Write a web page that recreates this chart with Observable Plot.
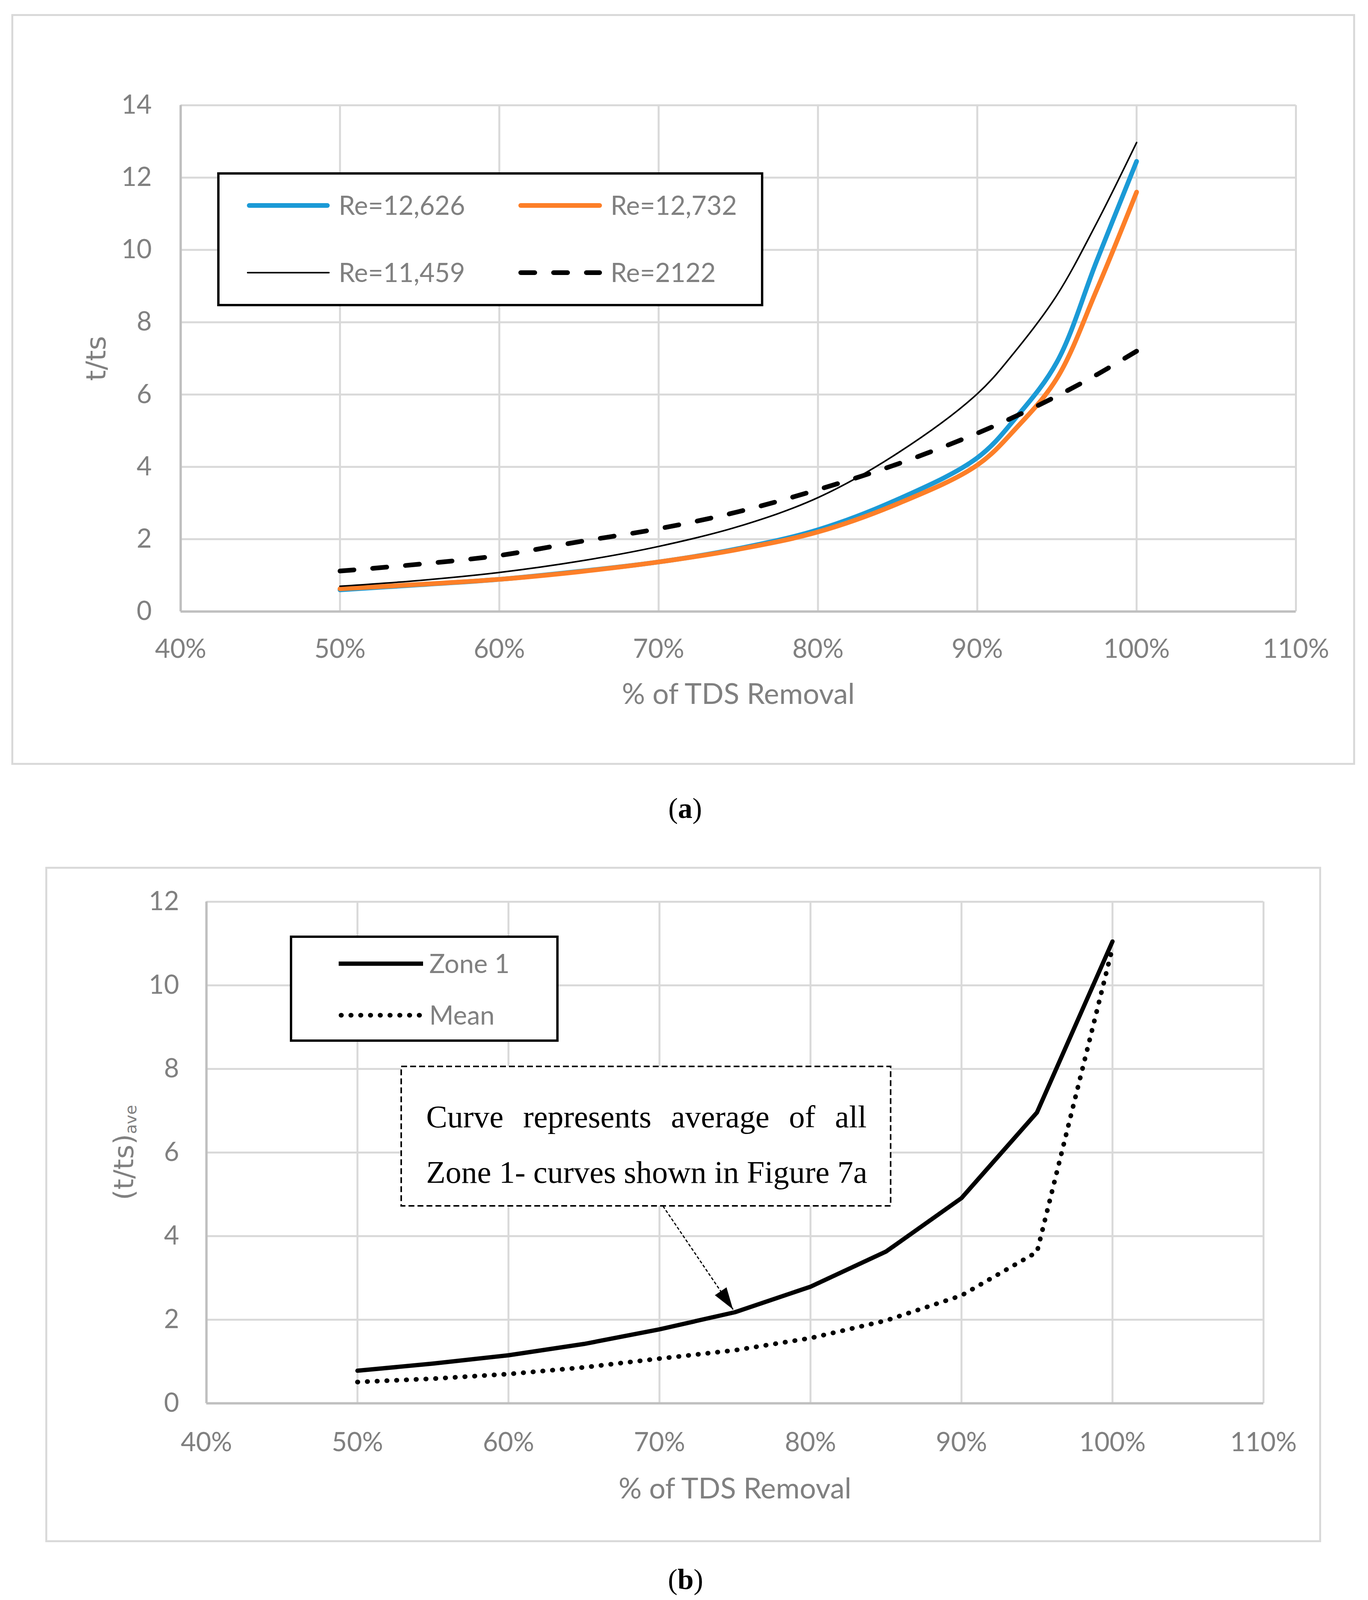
<!DOCTYPE html>
<html>
<head>
<meta charset="utf-8">
<script src="https://cdn.jsdelivr.net/npm/d3@7"></script>
<script src="https://cdn.jsdelivr.net/npm/@observablehq/plot@0.6"></script>
<style>
html, body { margin: 0; padding: 0; background: #fff; }
#page { position: relative; width: 3502px; height: 4131px; overflow: hidden; background: #fff; }
.chart { position: absolute; }
#overlay { position: absolute; left: 0; top: 0; pointer-events: none; }
</style>
</head>
<body>
<div id="page"></div>
<script>
// ---------- Data: Figure (a) ----------
const pctA = [50, 55, 60, 65, 70, 75, 80, 85, 90, 92.5, 95, 97.5, 100];
const re12626 = [0.60, 0.74, 0.89, 1.11, 1.37, 1.74, 2.26, 3.10, 4.25, 5.40, 6.90, 9.70, 12.45];
const re12732 = [0.63, 0.75, 0.89, 1.10, 1.37, 1.72, 2.20, 2.98, 4.05, 5.10, 6.45, 8.90, 11.60];
const re11459 = [0.70, 0.86, 1.08, 1.39, 1.80, 2.35, 3.15, 4.38, 6.02, 7.26, 8.75, 10.75, 12.97];
const re2122  = [1.12, 1.31, 1.55, 1.93, 2.29, 2.76, 3.37, 4.08, 4.93, 5.42, 5.96, 6.55, 7.20];
const namesA = ["Re=12,626", "Re=12,732", "Re=11,459", "Re=2122"];

// ---------- Data: Figure (b) ----------
const pctB = [50, 55, 60, 65, 70, 75, 80, 85, 90, 95, 100];
const zone1 = [0.78, 0.95, 1.15, 1.42, 1.77, 2.18, 2.79, 3.63, 4.91, 6.96, 11.05];
const meanV = [0.51, 0.59, 0.70, 0.86, 1.07, 1.27, 1.56, 1.98, 2.58, 3.62, 10.90];
const namesB = ["Zone 1", "Mean"];

// ---------- Ticks & labels ----------
const ticksX = [40, 50, 60, 70, 80, 90, 100, 110];
const ticksYA = [0, 2, 4, 6, 8, 10, 12, 14];
const ticksYB = [0, 2, 4, 6, 8, 10, 12];
const xTitle = "% of TDS Removal";
const yTitleA = "t/ts";
const yTitleB = "(t/ts)";
const yTitleBSub = "ave";
const panelLabels = ["a", "b"];

// ---------- Annotation (figure b, in data units) ----------
const noteBox = { x1: 52.91, x2: 85.32, y1: 4.72, y2: 8.056 };
const noteLines = [
  { x: 54.55, y: 6.607, text: "Curve represents average of all" },
  { x: 54.55, y: 5.280, text: "Zone 1- curves shown in Figure 7a" }
];
const noteRight = 83.72;
const noteArrow = { x1: 70.23, y1: 4.72, x2: 74.88, y2: 2.243 };

// ---------- Styles ----------
const seriesA = [
  { name: namesA[0], values: re12626, color: "#1b9ad6", width: 12, dash: null },
  { name: namesA[1], values: re12732, color: "#fd7f28", width: 12, dash: null },
  { name: namesA[2], values: re11459, color: "#000000", width: 4, dash: null },
  { name: namesA[3], values: re2122, color: "#000000", width: 12, dash: "36,48" }
];
const seriesB = [
  { name: namesB[0], pct: pctB, values: zone1, color: "#000000", width: 11, dash: null },
  { name: namesB[1], pct: pctB, values: meanV, color: "#000000", width: 12, dash: "1,24" }
];

const gray = "#808080";
const grid = "#d9d9d9";
const axisGray = "#bfbfbf";
const svgStyle = { fontFamily: "Lato", fontSize: "67px", color: gray, background: "white", overflow: "visible" };

const page = document.getElementById("page");

function place(node, left, top, w) {
  const div = document.createElement("div");
  div.className = "chart";
  div.style.left = left + "px";
  div.style.top = top + "px";
  div.style.width = w + "px";
  div.appendChild(node);
  page.appendChild(div);
}

// ---------- Chart (a) ----------
const chartA = Plot.plot({
  width: 3440, height: 1922,
  marginLeft: 433, marginRight: 152, marginTop: 233, marginBottom: 393,
  style: svgStyle,
  x: { domain: [40, 110], ticks: ticksX, tickFormat: d => d + "%", tickSize: 0, tickPadding: 71, label: null },
  y: { domain: [0, 14], ticks: ticksYA, tickSize: 0, tickPadding: 74, label: null },
  marks: [
    Plot.ruleX(ticksX, { stroke: grid, strokeWidth: 5 }),
    Plot.ruleY(ticksYA, { stroke: grid, strokeWidth: 5 }),
    Plot.ruleX([40], { stroke: axisGray, strokeWidth: 6 }),
    Plot.ruleY([0], { stroke: axisGray, strokeWidth: 6 }),
    ...seriesA.map(s => Plot.line(pctA.map((p, i) => ({ pct: p, v: s.values[i] })), {
      x: "pct", y: "v", stroke: s.color, strokeWidth: s.width,
      strokeDasharray: s.dash, strokeLinecap: "round", strokeLinejoin: "round",
      curve: "catmull-rom"
    })),
    Plot.text([xTitle], { text: d => d, frameAnchor: "bottom", dy: 213, lineAnchor: "middle",
      fontFamily: "Lato", fontSize: 74, fill: gray }),
    Plot.text([yTitleA], { text: d => d, frameAnchor: "left", dx: -193, rotate: -90,
      lineAnchor: "bottom", textAnchor: "middle", fontFamily: "DejaVu Sans", fontSize: 70, fill: gray })
  ]
});
place(chartA, 29, 36, 3440);

// ---------- Chart (b) ----------
const chartB = Plot.plot({
  width: 3266, height: 1729,
  marginLeft: 412, marginRight: 148, marginTop: 89, marginBottom: 356,
  style: svgStyle,
  x: { domain: [40, 110], ticks: ticksX, tickFormat: d => d + "%", tickSize: 0, tickPadding: 75, label: null },
  y: { domain: [0, 12], ticks: ticksYB, tickSize: 0, tickPadding: 70, label: null },
  marks: [
    Plot.ruleX(ticksX, { stroke: grid, strokeWidth: 5 }),
    Plot.ruleY(ticksYB, { stroke: grid, strokeWidth: 5 }),
    Plot.ruleX([40], { stroke: axisGray, strokeWidth: 6 }),
    Plot.ruleY([0], { stroke: axisGray, strokeWidth: 6 }),
    Plot.rect([noteBox], { x1: "x1", x2: "x2", y1: "y1", y2: "y2", fill: "white",
      stroke: "black", strokeWidth: 4, strokeDasharray: "15,8" }),
    Plot.text(noteLines, { x: "x", y: "y", text: "text", textAnchor: "start", lineAnchor: "bottom",
      fontFamily: "Liberation Serif", fontSize: 81, fill: "black" }),
    ...seriesB.map(s => Plot.line(s.pct.map((p, i) => ({ pct: p, v: s.values[i] })), {
      x: "pct", y: "v", stroke: s.color, strokeWidth: s.width,
      strokeDasharray: s.dash, strokeLinecap: "round", strokeLinejoin: "round"
    })),
    Plot.link([noteArrow], { x1: "x1", y1: "y1", x2: "x2", y2: "y2", stroke: "black",
      strokeWidth: 3, strokeDasharray: "8,5" }),
    Plot.text([xTitle], { text: d => d, frameAnchor: "bottom", dy: 220, lineAnchor: "middle",
      fontFamily: "Lato", fontSize: 74, fill: gray }),
    Plot.text([yTitleB], { text: d => d, frameAnchor: "left", dx: -188, rotate: -90,
      lineAnchor: "bottom", textAnchor: "middle", fontFamily: "DejaVu Sans", fontSize: 70, fill: gray })
  ]
});
place(chartB, 116, 2219, 3266);

// ---------- Post-processing of chart (b) ----------
function scaleFn(chart, name) {
  const s = chart.scale(name);
  if (s && typeof s.apply === "function") return v => s.apply(v);
  return v => s.range[0] + (v - s.domain[0]) / (s.domain[1] - s.domain[0]) * (s.range[1] - s.range[0]);
}
const fx = scaleFn(chartB, "x"), fy = scaleFn(chartB, "y");

d3.select(chartB).selectAll("text").each(function () {
  if (this.textContent === yTitleB) {
    d3.select(this).append("tspan").attr("font-size", 41).attr("dy", 8).text(yTitleBSub);
  } else if (this.textContent === noteLines[0].text) {
    const w = this.getComputedTextLength();
    const target = fx(noteRight) - fx(noteLines[0].x);
    const n = (noteLines[0].text.match(/ /g) || []).length;
    if (n > 0 && target > w) this.style.wordSpacing = ((target - w) / n) + "px";
  }
});

// filled arrow head
{
  const ax0 = fx(noteArrow.x1), ay0 = fy(noteArrow.y1);
  const ax1 = fx(noteArrow.x2), ay1 = fy(noteArrow.y2);
  const len = Math.hypot(ax1 - ax0, ay1 - ay0);
  const ux = (ax1 - ax0) / len, uy = (ay1 - ay0) / len;
  const nx = -uy, ny = ux;
  const L = 56, hw = 18;
  const bx = ax1 - L * ux, by = ay1 - L * uy;
  d3.select(chartB).append("path")
    .attr("d", `M${ax1},${ay1}L${bx + hw * nx},${by + hw * ny}L${bx - hw * nx},${by - hw * ny}Z`)
    .attr("fill", "black");
}

// ---------- Overlay: frames, legends, panel labels ----------
const ov = d3.select(page).append("svg").attr("id", "overlay")
  .attr("width", 3502).attr("height", 4131).attr("viewBox", "0 0 3502 4131");

function frame(x0, y0, x1, y1) {
  ov.append("rect").attr("x", x0 + 2.5).attr("y", y0 + 2.5)
    .attr("width", x1 - x0 - 5).attr("height", y1 - y0 - 5)
    .attr("fill", "none").attr("stroke", grid).attr("stroke-width", 5);
}
frame(29, 36, 3469, 1958);
frame(116, 2219, 3382, 3948);

function legend(box, entries) {
  ov.append("rect").attr("x", box.x0 + 3).attr("y", box.y0 + 3)
    .attr("width", box.x1 - box.x0 - 6).attr("height", box.y1 - box.y0 - 6)
    .attr("fill", "white").attr("stroke", "black").attr("stroke-width", 6);
  for (const e of entries) {
    const cap = e.cap || "round";
    const inset = cap === "round" ? e.width / 2 : 0;
    ov.append("line")
      .attr("x1", e.sw0 + inset).attr("x2", e.sw1 - inset).attr("y1", e.y).attr("y2", e.y)
      .attr("stroke", e.color).attr("stroke-width", e.width)
      .attr("stroke-linecap", cap)
      .attr("stroke-dasharray", e.dash);
    ov.append("text").attr("x", e.tx).attr("y", e.y + 24)
      .attr("font-family", "Lato").attr("font-size", 67).attr("fill", gray)
      .text(e.name);
  }
}
legend({ x0: 556, y0: 441, x1: 1954, y1: 784 }, [
  { ...seriesA[0], y: 526, sw0: 632, sw1: 844, tx: 867 },
  { ...seriesA[1], y: 526, sw0: 1327, sw1: 1541, tx: 1563 },
  { ...seriesA[2], y: 698, sw0: 632, sw1: 844, tx: 867 },
  { ...seriesA[3], y: 698, sw0: 1327, sw1: 1541, tx: 1563 }
]);
legend({ x0: 742, y0: 2395, x1: 1430, y1: 2667 }, [
  { ...seriesB[0], y: 2467, sw0: 867, sw1: 1083, tx: 1099, cap: "butt" },
  { ...seriesB[1], y: 2599, sw0: 867, sw1: 1083, tx: 1099 }
]);

// panel labels "(a)" / "(b)" as separate text pieces (letter bold)
function panelLabel(letter, cx, y) {
  const parts = [["(", "normal"], [letter, "bold"], [")", "normal"]];
  const nodes = parts.map(([s, wgt]) => ov.append("text").attr("y", y)
    .attr("font-family", "Liberation Serif").attr("font-size", 74)
    .attr("font-weight", wgt).attr("fill", "black").text(s));
  const widths = nodes.map(n => n.node().getComputedTextLength());
  let x = cx - widths.reduce((a, b) => a + b, 0) / 2;
  nodes.forEach((n, i) => { n.attr("x", x); x += widths[i]; });
}
panelLabel(panelLabels[0], 1754, 2094);
panelLabel(panelLabels[1], 1755, 4068);
</script>
</body>
</html>
